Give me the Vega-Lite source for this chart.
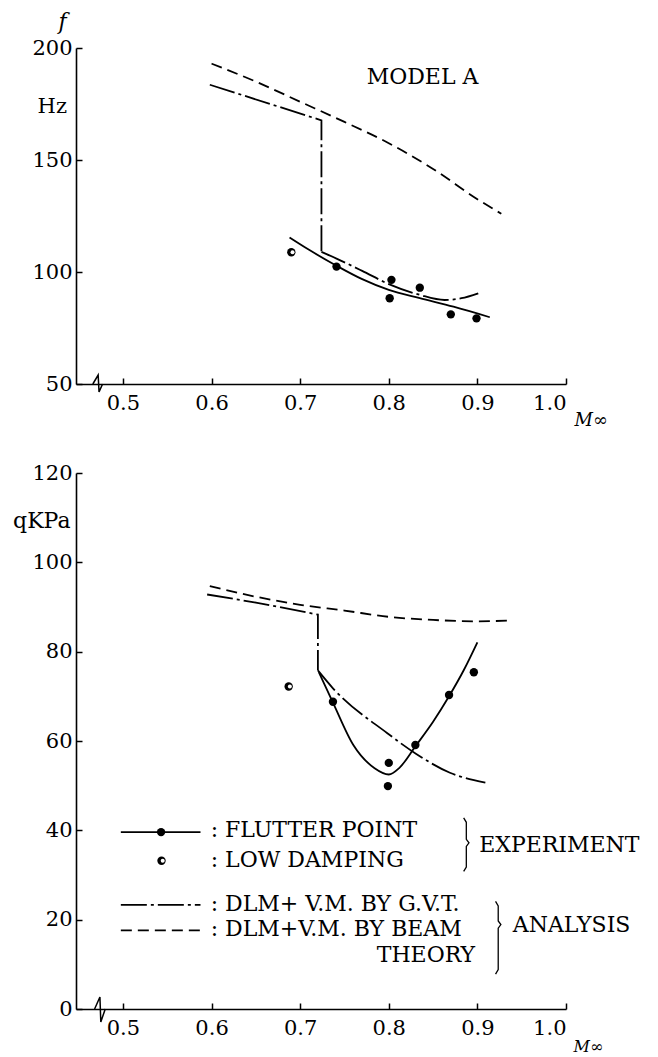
{
  "$schema": "https://vega.github.io/schema/vega-lite/v6.json",
  "padding": {"left": 12, "top": 10, "right": 0, "bottom": 0},
  "bounds": "flush",
  "spacing": 89,
  "config": {
    "font": "DejaVu Serif",
    "view": {"stroke": null},
    "axis": {
      "grid": false, "domainColor": "black", "domainWidth": 1.6,
      "tickColor": "black", "tickWidth": 1.5, "tickSize": -6,
      "labelColor": "black", "labelFontSize": 21, "labelFont": "DejaVu Serif",
      "titleColor": "black", "titleFont": "DejaVu Serif", "titleFontWeight": "normal"
    },
    "text": {"font": "DejaVu Serif", "fontSize": 22, "color": "black"}
  },
  "datasets": {
    "curves": [
      {"panel": "top", "series": "beam", "ord": 1, "M": 0.6, "v": 193},
      {"panel": "top", "series": "beam", "ord": 2, "M": 0.65, "v": 185},
      {"panel": "top", "series": "beam", "ord": 3, "M": 0.7, "v": 176},
      {"panel": "top", "series": "beam", "ord": 4, "M": 0.75, "v": 167},
      {"panel": "top", "series": "beam", "ord": 5, "M": 0.8, "v": 157.5},
      {"panel": "top", "series": "beam", "ord": 6, "M": 0.85, "v": 146},
      {"panel": "top", "series": "beam", "ord": 7, "M": 0.9, "v": 132.5},
      {"panel": "top", "series": "beam", "ord": 8, "M": 0.927, "v": 126},
      {"panel": "top", "series": "gvt1", "ord": 1, "M": 0.598, "v": 183.6},
      {"panel": "top", "series": "gvt1", "ord": 2, "M": 0.724, "v": 167.7},
      {"panel": "top", "series": "gvt1", "ord": 3, "M": 0.724, "v": 109},
      {"panel": "top", "series": "gvt2", "ord": 1, "M": 0.724, "v": 109},
      {"panel": "top", "series": "gvt2", "ord": 2, "M": 0.741, "v": 106},
      {"panel": "top", "series": "gvt2", "ord": 3, "M": 0.77, "v": 100.5},
      {"panel": "top", "series": "gvt2", "ord": 4, "M": 0.8, "v": 94.6},
      {"panel": "top", "series": "gvt2", "ord": 5, "M": 0.835, "v": 89.8},
      {"panel": "top", "series": "gvt2", "ord": 6, "M": 0.863, "v": 87.5},
      {"panel": "top", "series": "gvt2", "ord": 7, "M": 0.882, "v": 88.3},
      {"panel": "top", "series": "gvt2", "ord": 8, "M": 0.901, "v": 90.5},
      {"panel": "top", "series": "exp", "ord": 1, "M": 0.688, "v": 115.4},
      {"panel": "top", "series": "exp", "ord": 2, "M": 0.71, "v": 109.9},
      {"panel": "top", "series": "exp", "ord": 3, "M": 0.741, "v": 102.8},
      {"panel": "top", "series": "exp", "ord": 4, "M": 0.77, "v": 96.8},
      {"panel": "top", "series": "exp", "ord": 5, "M": 0.8, "v": 92},
      {"panel": "top", "series": "exp", "ord": 6, "M": 0.835, "v": 88.3},
      {"panel": "top", "series": "exp", "ord": 7, "M": 0.873, "v": 84.5},
      {"panel": "top", "series": "exp", "ord": 8, "M": 0.914, "v": 79.8},
      {"panel": "bot", "series": "beam", "ord": 1, "M": 0.598, "v": 94.7},
      {"panel": "bot", "series": "beam", "ord": 2, "M": 0.65, "v": 92.3},
      {"panel": "bot", "series": "beam", "ord": 3, "M": 0.7, "v": 90.5},
      {"panel": "bot", "series": "beam", "ord": 4, "M": 0.75, "v": 89.2},
      {"panel": "bot", "series": "beam", "ord": 5, "M": 0.8, "v": 87.8},
      {"panel": "bot", "series": "beam", "ord": 6, "M": 0.85, "v": 87.1},
      {"panel": "bot", "series": "beam", "ord": 7, "M": 0.9, "v": 86.8},
      {"panel": "bot", "series": "beam", "ord": 8, "M": 0.94, "v": 87.0},
      {"panel": "bot", "series": "gvt1", "ord": 1, "M": 0.595, "v": 92.8},
      {"panel": "bot", "series": "gvt1", "ord": 2, "M": 0.65, "v": 91.0},
      {"panel": "bot", "series": "gvt1", "ord": 3, "M": 0.72, "v": 88.3},
      {"panel": "bot", "series": "gvt1", "ord": 4, "M": 0.72, "v": 75.8},
      {"panel": "bot", "series": "gvt2", "ord": 1, "M": 0.72, "v": 75.8},
      {"panel": "bot", "series": "gvt2", "ord": 2, "M": 0.737, "v": 71.8},
      {"panel": "bot", "series": "gvt2", "ord": 3, "M": 0.798, "v": 61.8},
      {"panel": "bot", "series": "gvt2", "ord": 4, "M": 0.831, "v": 57.1},
      {"panel": "bot", "series": "gvt2", "ord": 5, "M": 0.869, "v": 52.9},
      {"panel": "bot", "series": "gvt2", "ord": 6, "M": 0.909, "v": 50.7},
      {"panel": "bot", "series": "exp", "ord": 1, "M": 0.721, "v": 75.4},
      {"panel": "bot", "series": "exp", "ord": 2, "M": 0.737, "v": 68.6},
      {"panel": "bot", "series": "exp", "ord": 3, "M": 0.76, "v": 59.1},
      {"panel": "bot", "series": "exp", "ord": 4, "M": 0.784, "v": 53.9},
      {"panel": "bot", "series": "exp", "ord": 5, "M": 0.8, "v": 52.5},
      {"panel": "bot", "series": "exp", "ord": 6, "M": 0.812, "v": 54.0},
      {"panel": "bot", "series": "exp", "ord": 7, "M": 0.83, "v": 58.8},
      {"panel": "bot", "series": "exp", "ord": 8, "M": 0.85, "v": 64.3},
      {"panel": "bot", "series": "exp", "ord": 9, "M": 0.868, "v": 70.0},
      {"panel": "bot", "series": "exp", "ord": 10, "M": 0.885, "v": 76.0},
      {"panel": "bot", "series": "exp", "ord": 11, "M": 0.9, "v": 82.1}
    ],
    "points": [
      {"panel": "top", "kind": "flutter", "M": 0.741, "v": 102.4},
      {"panel": "top", "kind": "flutter", "M": 0.803, "v": 96.5},
      {"panel": "top", "kind": "flutter", "M": 0.801, "v": 88.3},
      {"panel": "top", "kind": "flutter", "M": 0.835, "v": 93},
      {"panel": "top", "kind": "flutter", "M": 0.870, "v": 81.1},
      {"panel": "top", "kind": "flutter", "M": 0.899, "v": 79.3},
      {"panel": "top", "kind": "low", "M": 0.690, "v": 108.8},
      {"panel": "bot", "kind": "flutter", "M": 0.737, "v": 68.8},
      {"panel": "bot", "kind": "flutter", "M": 0.800, "v": 55.1},
      {"panel": "bot", "kind": "flutter", "M": 0.799, "v": 49.9},
      {"panel": "bot", "kind": "flutter", "M": 0.830, "v": 59.1},
      {"panel": "bot", "kind": "flutter", "M": 0.868, "v": 70.3},
      {"panel": "bot", "kind": "flutter", "M": 0.896, "v": 75.4},
      {"panel": "bot", "kind": "low", "M": 0.687, "v": 72.2},
      {"panel": "legend", "kind": "flutter", "M": 0.543, "v": 39.6},
      {"panel": "legend", "kind": "low", "M": 0.5435, "v": 33.2}
    ],
    "breaks": [
      {"panel": "top", "ord": 1, "M": 0.466, "v": 50},
      {"panel": "top", "ord": 2, "M": 0.472, "v": 54},
      {"panel": "top", "ord": 3, "M": 0.473, "v": 46.5},
      {"panel": "top", "ord": 4, "M": 0.477, "v": 50},
      {"panel": "bot", "ord": 1, "M": 0.468, "v": 0},
      {"panel": "bot", "ord": 2, "M": 0.474, "v": 2.7},
      {"panel": "bot", "ord": 3, "M": 0.475, "v": -2.9},
      {"panel": "bot", "ord": 4, "M": 0.480, "v": 0}
    ],
    "legendLines": [
      {"series": "exp", "M": 0.4976, "M2": 0.5875, "v": 39.6},
      {"series": "gvt", "M": 0.4976, "M2": 0.5875, "v": 23.3},
      {"series": "beam", "M": 0.4976, "M2": 0.5875, "v": 17.6}
    ],
    "braces": [
      {"group": "exp", "ord": 1, "M": 0.8845, "v": 42.8},
      {"group": "exp", "ord": 2, "M": 0.8875, "v": 41.8},
      {"group": "exp", "ord": 3, "M": 0.8875, "v": 38.0},
      {"group": "exp", "ord": 4, "M": 0.8905, "v": 37.2},
      {"group": "exp", "ord": 5, "M": 0.8875, "v": 36.4},
      {"group": "exp", "ord": 6, "M": 0.8875, "v": 31.8},
      {"group": "exp", "ord": 7, "M": 0.8845, "v": 30.8},
      {"group": "ana", "ord": 1, "M": 0.9205, "v": 24.1},
      {"group": "ana", "ord": 2, "M": 0.9235, "v": 23.1},
      {"group": "ana", "ord": 3, "M": 0.9235, "v": 19.7},
      {"group": "ana", "ord": 4, "M": 0.9265, "v": 18.9},
      {"group": "ana", "ord": 5, "M": 0.9235, "v": 18.1},
      {"group": "ana", "ord": 6, "M": 0.9235, "v": 8.8},
      {"group": "ana", "ord": 7, "M": 0.9205, "v": 7.8}
    ],
    "labels": [
      {"panel": "top", "text": "MODEL A", "M": 0.775, "v": 187},
      {"panel": "bot", "text": ": FLUTTER POINT", "M": 0.599, "v": 40},
      {"panel": "bot", "text": ": LOW DAMPING", "M": 0.599, "v": 33.4},
      {"panel": "bot", "text": "EXPERIMENT", "M": 0.902, "v": 36.8},
      {"panel": "bot", "text": ": DLM+ V.M. BY G.V.T.", "M": 0.599, "v": 23.6},
      {"panel": "bot", "text": ": DLM+V.M. BY BEAM", "M": 0.599, "v": 17.9},
      {"panel": "bot", "text": "ANALYSIS", "M": 0.94, "v": 18.9}
    ],
    "rightLabels": [
      {"panel": "top", "text": "Hz", "M": 0.447, "v": 173.7},
      {"panel": "bot", "text": "THEORY", "M": 0.8974, "v": 12.2}
    ]
  },
  "vconcat": [
    {
      "width": 490,
      "height": 336,
      "encoding": {
        "x": {"field": "M", "type": "quantitative",
          "scale": {"domain": [0.447, 1.0], "nice": false, "zero": false},
          "axis": {"values": [0.5, 0.6, 0.7, 0.8, 0.9, 1.0], "format": ".1f", "labelPadding": 14,
            "title": "M∞", "titleFontStyle": "italic", "titleFontSize": 18, "titleAlign": "left",
            "titleAnchor": "start", "titleX": 498, "titleY": 36, "titleBaseline": "middle"}},
        "y": {"field": "v", "type": "quantitative",
          "scale": {"domain": [50, 200], "nice": false, "zero": false},
          "axis": {"values": [50, 100, 150, 200], "labelPadding": 10,
            "title": "f", "titleAngle": 0, "titleFontStyle": "italic", "titleFontSize": 22,
            "titleAlign": "center", "titleBaseline": "middle", "titleX": -14, "titleY": -27}}
      },
      "layer": [
        {"data": {"name": "curves"}, "transform": [{"filter": "datum.panel === 'top' && datum.series === 'beam'"}],
          "mark": {"type": "line", "color": "black", "strokeWidth": 1.8, "strokeDash": [11, 6], "interpolate": "monotone"},
          "encoding": {"order": {"field": "ord"}}},
        {"data": {"name": "curves"}, "transform": [{"filter": "datum.panel === 'top' && datum.series === 'gvt1'"}],
          "mark": {"type": "line", "color": "black", "strokeWidth": 1.8, "strokeDash": [26, 4, 3, 4]},
          "encoding": {"order": {"field": "ord"}}},
        {"data": {"name": "curves"}, "transform": [{"filter": "datum.panel === 'top' && datum.series === 'gvt2'"}],
          "mark": {"type": "line", "color": "black", "strokeWidth": 1.8, "strokeDash": [26, 4, 3, 4], "interpolate": "monotone"},
          "encoding": {"order": {"field": "ord"}}},
        {"data": {"name": "curves"}, "transform": [{"filter": "datum.panel === 'top' && datum.series === 'exp'"}],
          "mark": {"type": "line", "color": "black", "strokeWidth": 1.8, "interpolate": "monotone"},
          "encoding": {"order": {"field": "ord"}}},
        {"data": {"name": "points"}, "transform": [{"filter": "datum.panel === 'top'"}],
          "mark": {"type": "point", "filled": true, "color": "black", "size": 70, "opacity": 1}},
        {"data": {"name": "points"}, "transform": [{"filter": "datum.panel === 'top' && datum.kind === 'low'"}],
          "mark": {"type": "point", "filled": true, "color": "white", "size": 16, "opacity": 1, "xOffset": 1.2}},
        {"data": {"name": "breaks"}, "transform": [{"filter": "datum.panel === 'top'"}],
          "mark": {"type": "line", "color": "black", "strokeWidth": 1.5},
          "encoding": {"order": {"field": "ord"}}},
        {"data": {"name": "labels"}, "transform": [{"filter": "datum.panel === 'top'"}],
          "mark": {"type": "text", "align": "left", "baseline": "middle", "fontSize": 22},
          "encoding": {"text": {"field": "text"}}},
        {"data": {"name": "rightLabels"}, "transform": [{"filter": "datum.panel === 'top'"}],
          "mark": {"type": "text", "align": "right", "baseline": "middle", "dx": -9, "fontSize": 21},
          "encoding": {"text": {"field": "text"}}}
      ]
    },
    {
      "width": 490,
      "height": 536,
      "encoding": {
        "x": {"field": "M", "type": "quantitative",
          "scale": {"domain": [0.447, 1.0], "nice": false, "zero": false},
          "axis": {"values": [0.5, 0.6, 0.7, 0.8, 0.9, 1.0], "format": ".1f", "labelPadding": 14,
            "title": "M∞", "titleFontStyle": "italic", "titleFontSize": 16, "titleAlign": "left",
            "titleAnchor": "start", "titleX": 497, "titleY": 37, "titleBaseline": "middle"}},
        "y": {"field": "v", "type": "quantitative",
          "scale": {"domain": [0, 120], "nice": false, "zero": false},
          "axis": {"values": [0, 20, 40, 60, 80, 100, 120], "labelPadding": 10,
            "title": "qKPa", "titleAngle": 0, "titleFontSize": 22,
            "titleAlign": "right", "titleBaseline": "middle", "titleX": -6, "titleY": 47}}
      },
      "layer": [
        {"data": {"name": "curves"}, "transform": [{"filter": "datum.panel === 'bot' && datum.series === 'beam'"}],
          "mark": {"type": "line", "color": "black", "strokeWidth": 1.8, "strokeDash": [11, 6], "interpolate": "monotone"},
          "encoding": {"order": {"field": "ord"}}},
        {"data": {"name": "curves"}, "transform": [{"filter": "datum.panel === 'bot' && datum.series === 'gvt1'"}],
          "mark": {"type": "line", "color": "black", "strokeWidth": 1.8, "strokeDash": [26, 4, 3, 4]},
          "encoding": {"order": {"field": "ord"}}},
        {"data": {"name": "curves"}, "transform": [{"filter": "datum.panel === 'bot' && datum.series === 'gvt2'"}],
          "mark": {"type": "line", "color": "black", "strokeWidth": 1.8, "strokeDash": [26, 4, 3, 4], "interpolate": "monotone"},
          "encoding": {"order": {"field": "ord"}}},
        {"data": {"name": "curves"}, "transform": [{"filter": "datum.panel === 'bot' && datum.series === 'exp'"}],
          "mark": {"type": "line", "color": "black", "strokeWidth": 1.8, "interpolate": "monotone"},
          "encoding": {"order": {"field": "ord"}}},
        {"data": {"name": "points"}, "transform": [{"filter": "datum.panel !== 'top'"}],
          "mark": {"type": "point", "filled": true, "color": "black", "size": 70, "opacity": 1}},
        {"data": {"name": "points"}, "transform": [{"filter": "datum.panel !== 'top' && datum.kind === 'low'"}],
          "mark": {"type": "point", "filled": true, "color": "white", "size": 16, "opacity": 1, "xOffset": 1.2}},
        {"data": {"name": "breaks"}, "transform": [{"filter": "datum.panel === 'bot'"}],
          "mark": {"type": "line", "color": "black", "strokeWidth": 1.5},
          "encoding": {"order": {"field": "ord"}}},
        {"data": {"name": "legendLines"}, "transform": [{"filter": "datum.series === 'exp'"}],
          "mark": {"type": "rule", "color": "black", "strokeWidth": 1.8},
          "encoding": {"x2": {"field": "M2"}}},
        {"data": {"name": "legendLines"}, "transform": [{"filter": "datum.series === 'gvt'"}],
          "mark": {"type": "rule", "color": "black", "strokeWidth": 1.8, "strokeDash": [26, 4, 3, 4]},
          "encoding": {"x2": {"field": "M2"}}},
        {"data": {"name": "legendLines"}, "transform": [{"filter": "datum.series === 'beam'"}],
          "mark": {"type": "rule", "color": "black", "strokeWidth": 1.8, "strokeDash": [11, 6]},
          "encoding": {"x2": {"field": "M2"}}},
        {"data": {"name": "braces"},
          "mark": {"type": "line", "color": "black", "strokeWidth": 1.3},
          "encoding": {"detail": {"field": "group"}, "order": {"field": "ord"}}},
        {"data": {"name": "labels"}, "transform": [{"filter": "datum.panel === 'bot'"}],
          "mark": {"type": "text", "align": "left", "baseline": "middle", "fontSize": 22},
          "encoding": {"text": {"field": "text"}}},
        {"data": {"name": "rightLabels"}, "transform": [{"filter": "datum.panel === 'bot'"}],
          "mark": {"type": "text", "align": "right", "baseline": "middle", "fontSize": 22},
          "encoding": {"text": {"field": "text"}}}
      ]
    }
  ]
}
